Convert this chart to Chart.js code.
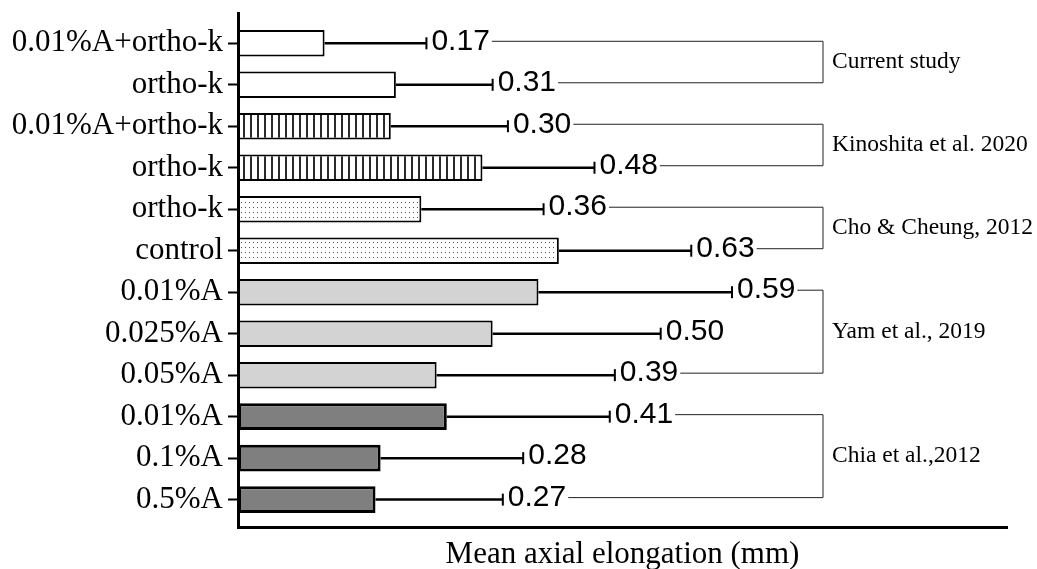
<!DOCTYPE html>
<html>
<head>
<meta charset="utf-8">
<title>Mean axial elongation</title>
<script src="https://cdn.jsdelivr.net/npm/chart.js@4.4.1/dist/chart.umd.min.js"></script>
<style>
  html, body { margin: 0; padding: 0; background: #fff; }
</style>
</head>
<body>
<canvas id="elongChart" width="1037" height="569"></canvas>
<script>
// rows from top to bottom
const treatments = [
  "0.01%A+ortho-k", "ortho-k",
  "0.01%A+ortho-k", "ortho-k",
  "ortho-k", "control",
  "0.01%A", "0.025%A", "0.05%A",
  "0.01%A", "0.1%A", "0.5%A",
];
const meanElongation = [0.17, 0.31, 0.30, 0.48, 0.36, 0.63, 0.59, 0.50, 0.39, 0.41, 0.28, 0.27];
const sdElongation = [0.20, 0.19, 0.23, 0.22, 0.24, 0.26, 0.38, 0.33, 0.35, 0.32, 0.28, 0.25];

const studies = ["Current study", "Kinoshita et al. 2020", "Cho & Cheung, 2012", "Yam et al., 2019", "Chia et al.,2012"];
const studyFirstRow = [0, 2, 4, 6, 9];
const studyLastRow = [1, 3, 5, 8, 11];
const studyOfRow = [0, 0, 1, 1, 2, 2, 3, 3, 3, 4, 4, 4];

const serif = '"Liberation Serif", "Times New Roman", serif';
const sans = '"Liberation Sans", Arial, sans-serif';

function hatchPattern() {
  const c = document.createElement("canvas");
  c.width = 7;
  c.height = 8;
  const g = c.getContext("2d");
  g.fillStyle = "#fff";
  g.fillRect(0, 0, 7, 8);
  g.fillStyle = "#2a2a2a";
  g.fillRect(5, 0, 2, 8);
  return g.createPattern(c, "repeat");
}

function dotPattern() {
  const c = document.createElement("canvas");
  c.width = 4;
  c.height = 5;
  const g = c.getContext("2d");
  g.fillStyle = "#fff";
  g.fillRect(0, 0, 4, 5);
  g.fillStyle = "#555";
  g.fillRect(1, 2, 1, 1);
  return g.createPattern(c, "repeat");
}

const studyFills = ["#ffffff", hatchPattern(), dotPattern(), "#d3d3d3", "#7f7f7f"];
const studyBorderWidth = [2, 2, 2, 2, 3];

// error bars, value labels and study brackets
const annotations = {
  id: "annotations",
  afterDatasetsDraw(chart) {
    const { ctx, scales } = chart;
    const x = scales.x;
    const y = scales.y;
    const bracketX = 823;
    const labelEnds = [];

    ctx.save();
    ctx.strokeStyle = "#000";
    ctx.fillStyle = "#000";
    meanElongation.forEach((m, i) => {
      const yc = y.getPixelForValue(i);
      const x0 = x.getPixelForValue(m);
      const x1 = x.getPixelForValue(m + sdElongation[i]);

      ctx.lineWidth = 2.5;
      ctx.beginPath();
      ctx.moveTo(x0, yc);
      ctx.lineTo(x1, yc);
      ctx.stroke();
      ctx.lineWidth = 2;
      ctx.beginPath();
      ctx.moveTo(x1, yc - 6);
      ctx.lineTo(x1, yc + 6);
      ctx.stroke();

      ctx.font = "30px " + sans;
      ctx.textAlign = "left";
      ctx.textBaseline = "middle";
      const txt = m.toFixed(2);
      ctx.fillText(txt, x1 + 5, yc - 2);
      labelEnds[i] = x1 + 5 + ctx.measureText(txt).width;
    });

    ctx.strokeStyle = "#222";
    ctx.lineWidth = 1;
    studies.forEach((name, s) => {
      const yTop = y.getPixelForValue(studyFirstRow[s]) - 2;
      const yBot = y.getPixelForValue(studyLastRow[s]) - 2;
      ctx.beginPath();
      ctx.moveTo(labelEnds[studyFirstRow[s]] + 2, yTop);
      ctx.lineTo(bracketX, yTop);
      ctx.lineTo(bracketX, yBot);
      ctx.lineTo(labelEnds[studyLastRow[s]] + 2, yBot);
      ctx.stroke();

      ctx.font = "23.5px " + serif;
      ctx.fillText(name, bracketX + 9, (yTop + yBot) / 2);
    });
    ctx.restore();
  },
};

new Chart(document.getElementById("elongChart"), {
  type: "bar",
  data: {
    datasets: [
      {
        data: meanElongation.map((m, i) => ({ x: m, y: i })),
        backgroundColor: studyOfRow.map((s) => studyFills[s]),
        borderColor: "#000",
        borderWidth: studyOfRow.map((s) => studyBorderWidth[s]),
        borderSkipped: false,
        barPercentage: 0.64,
        categoryPercentage: 1,
      },
    ],
  },
  options: {
    indexAxis: "y",
    responsive: false,
    animation: false,
    layout: { padding: { top: 13, right: 30, left: 0, bottom: 0 } },
    scales: {
      x: {
        type: "linear",
        min: 0,
        max: 1.51,
        ticks: { display: false },
        grid: { display: false },
        border: { color: "#000", width: 3 },
        title: {
          display: true,
          text: "Mean axial elongation (mm)",
          color: "#000",
          font: { family: serif, size: 31 },
          padding: { top: 0, bottom: -4 },
        },
        afterFit: (scale) => {
          scale.height = 42;
          scale.paddingLeft = 0;
          scale.paddingRight = 0;
        },
      },
      y: {
        type: "linear",
        reverse: true,
        offset: false,
        min: -0.73,
        max: 11.66,
        afterBuildTicks: (scale) => {
          scale.ticks = treatments.map((_, i) => ({ value: i }));
        },
        ticks: {
          autoSkip: false,
          padding: 5,
          color: "#000",
          font: { family: serif, size: 31 },
          callback: (v) => treatments[v],
        },
        grid: {
          offset: false,
          drawOnChartArea: false,
          tickLength: 10,
          tickWidth: 2,
          tickColor: "#000",
        },
        border: { color: "#000", width: 3 },
        afterFit: (scale) => {
          scale.width = 238;
          scale.paddingTop = 0;
          scale.paddingBottom = 0;
        },
      },
    },
    plugins: {
      legend: { display: false },
      tooltip: { enabled: false },
    },
  },
  plugins: [annotations],
});
</script>
</body>
</html>
